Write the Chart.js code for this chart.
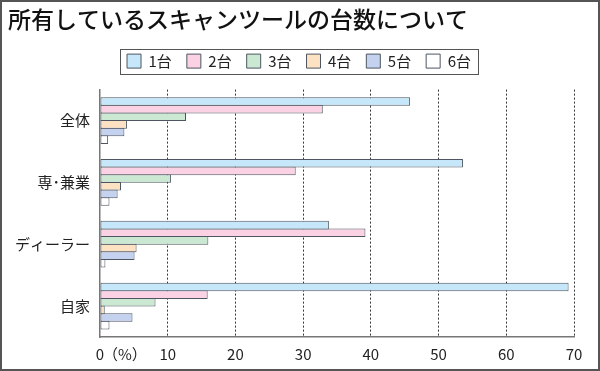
<!DOCTYPE html>
<html>
<head>
<meta charset="utf-8">
<script src="https://cdn.jsdelivr.net/npm/chart.js@4.4.1/dist/chart.umd.min.js"></script>
<style>
  html, body { margin: 0; padding: 0; background: #fff; }
  #wrap { width: 600px; height: 371px; position: relative; }
</style>
</head>
<body>
<div id="wrap"><canvas id="scanChart" width="600" height="371"></canvas></div>
<script>
//  Categories and series (percent)
var categories = ["全体", "専･兼業", "ディーラー", "自家"];
var seriesNames = ["1台", "2台", "3台", "4台", "5台", "6台"];
var v1 = [45.8, 53.6, 33.8, 69.2];
var v2 = [32.9, 28.9, 39.2, 15.9];
var v3 = [12.7, 10.5, 16.0, 8.2];
var v4 = [4.0, 3.1, 5.4, 0.7];
var v5 = [3.6, 2.6, 5.1, 4.8];
var v6 = [1.2, 1.4, 0.8, 1.4];
var xTicks = [0, 10, 20, 30, 40, 50, 60, 70];

var seriesValues = [v1, v2, v3, v4, v5, v6];
var fills = ["#c6e7f9", "#fbd2e4", "#cbe8d3", "#fde1c3", "#c4d1ef", "#ffffff"];
var edge = "#4d5661";
var jpFont = "'Noto Sans CJK JP'";

var datasets = seriesNames.map(function(name, i) {
    return {
        label: name,
        data: seriesValues[i],
        backgroundColor: fills[i],
        borderColor: edge,
        borderWidth: 1,
        borderSkipped: false,
        categoryPercentage: 0.74,
        barPercentage: 1.13
    };
});

//  Frame, legend box and the "(%)" unit
var decor = {
    id: 'decor',
    beforeDraw: function(chart) {
        var c = chart.ctx;
        c.save();
        c.fillStyle = "#fff";
        c.fillRect(0, 0, chart.width, chart.height);
        c.restore();
    },
    afterLayout: function(chart) {
        var lg = chart.legend;
        lg.left += 8;
        lg.right += 8;
    },
    afterDraw: function(chart) {
        var c = chart.ctx;
        var lg = chart.legend;
        c.save();
        // legend box
        var hb = lg.legendHitBoxes;
        if (hb && hb.length) {
            var l = hb[0].left - 7, r = hb[hb.length - 1].left + hb[hb.length - 1].width + 7;
            var t = hb[0].top - 5, b = hb[0].top + hb[0].height + 5;
            c.strokeStyle = "#555";
            c.lineWidth = 1;
            c.strokeRect(Math.round(l) + 0.5, Math.round(t) + 0.5, Math.round(r - l), Math.round(b - t));
        }
        // unit after the zero tick
        var xs = chart.scales.x;
        c.fillStyle = "#222";
        c.font = "15px " + jpFont;
        c.textBaseline = "middle";
        c.textAlign = "left";
        c.fillText("（%）", xs.getPixelForValue(0) + 3, xs.top + 8 + 9);
        // outer frame
        c.strokeStyle = "#555";
        c.lineWidth = 2;
        c.strokeRect(1, 1, chart.width - 2, chart.height - 2);
        c.restore();
    }
};

var ctx = document.getElementById('scanChart');
new Chart(ctx, {
    type: 'bar',
    data: { labels: categories, datasets: datasets },
    options: {
        indexAxis: 'y',
        responsive: false,
        animation: false,
        layout: { padding: { left: 8, right: 26, top: 0, bottom: 0 } },
        plugins: {
            title: {
                display: true,
                text: "所有しているスキャンツールの台数について",
                align: 'start',
                color: "#111",
                font: { family: jpFont, size: 23, weight: '500' },
                padding: { top: 5, bottom: 6 }
            },
            //  spacer between legend and plot
            subtitle: {
                display: true,
                text: " ",
                weight: 500,
                font: { size: 1, lineHeight: 1 },
                padding: { top: 5, bottom: 5 }
            },
            legend: {
                display: true,
                position: 'top',
                labels: {
                    color: "#222",
                    font: { family: jpFont, size: 15 },
                    boxWidth: 14,
                    boxHeight: 14,
                    padding: 15
                }
            },
            tooltip: { enabled: false }
        },
        scales: {
            x: {
                min: 0,
                max: 70,
                afterBuildTicks: function(scale) {
                    scale.ticks = xTicks.map(function(v) { return { value: v }; });
                },
                afterFit: function(scale) { scale.height = 34; },
                grid: {
                    color: function(c) { return c.tick && c.tick.value === 0 ? 'rgba(0,0,0,0)' : "#333"; },
                    lineWidth: 1,
                    drawTicks: false
                },
                border: { display: true, color: "#777", width: 1.5, dash: [2, 2] },
                ticks: {
                    color: "#222",
                    font: { family: jpFont, size: 15 },
                    padding: 8,
                    maxRotation: 0
                }
            },
            y: {
                grid: { display: false, drawTicks: false },
                border: { display: true, color: "#777", width: 1.5 },
                ticks: {
                    color: "#222",
                    font: { family: jpFont, size: 15 },
                    padding: 10
                },
                afterFit: function(scale) { scale.width = 92; }
            }
        }
    },
    plugins: [decor]
});
</script>
</body>
</html>
